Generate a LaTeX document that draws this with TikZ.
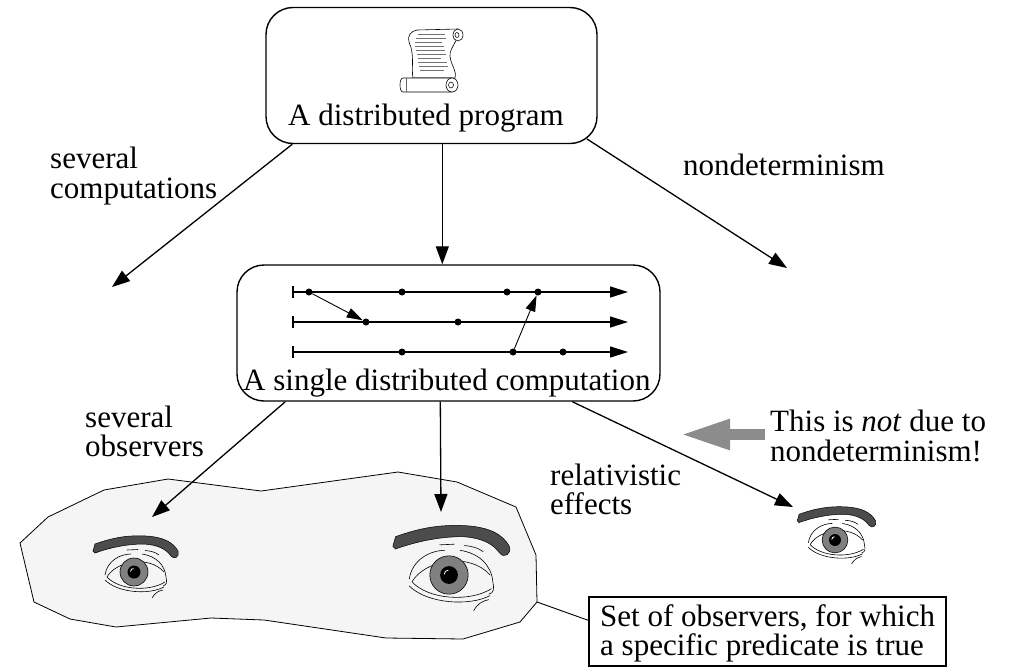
\documentclass[tikz,border=0pt]{standalone}
\usepackage{fontspec}
\setmainfont{Liberation Serif}
\usetikzlibrary{arrows.meta,calc}

\tikzset{
  % a drawn eye: brow, lids and iris, centred on the iris
  pics/eye/.style={code={
    \filldraw[fill=black!70, line width=0.5pt]
      (-41,-21) -- (-39,-28) .. controls (-22,-34) and (-8,-37) .. (12,-36)
      .. controls (29,-35) and (39,-30) .. (44,-21)
      .. controls (46,-15) and (40,-12) .. (37,-16)
      .. controls (32,-23) and (24,-27) .. (10,-28)
      .. controls (-8,-28) and (-25,-24) .. (-39,-19) -- cycle;
    \draw[line width=0.6pt] (-27,5) .. controls (-18,-11) and (15,-17) .. (30,0);
    \draw[line width=0.6pt] (-29,3) .. controls (-27,-11) and (-14,-18) .. (-3,-18);
    \draw[line width=0.6pt] (8,-18) .. controls (22,-16) and (31,-7) .. (32,5)
      .. controls (33,10) and (33,13) .. (29,14);
    \draw[line width=0.6pt] (-7,-22) -- (4,-22.5);
    \draw[line width=0.6pt] (11,-21.5) .. controls (17,-21) and (21,-20) .. (25,-17);
    \draw[line width=0.6pt] (-27,5) .. controls (-15,18) and (15,20) .. (31,10);
    \draw[line width=0.6pt] (-29,8) .. controls (-16,21) and (15,23) .. (30,15);
    \draw[line width=0.6pt] (18,26) .. controls (21,21) and (24,19) .. (29,18);
    \filldraw[fill=black!50, line width=0.6pt] (0,0) circle (14);
    \fill (0,0) circle (6.5);
    \draw[white, line width=0.8pt] (-3.5,-0.5) .. controls (-3.5,-2.5) and (-2,-3.5) .. (-0.5,-3.5);
  }},
  % a rolled parchment with lines of writing
  pics/scroll/.style={code={
    \filldraw[fill=white, line width=0.6pt]
      (-14,-30) -- (27,-31) .. controls (30,-22) and (18,-12) .. (19,-4)
      .. controls (20,6) and (26,10) .. (24,18) -- (-18,18)
      .. controls (-20,8) and (-16,-5) .. (-22,-18)
      .. controls (-24,-24) and (-20,-29) .. (-14,-30) -- cycle;
    \foreach \yy/\xa/\xb in {-26/-13/14,-22/-15/15,-18/-16/11,-14/-16/13,-10/-15/14,
                            -6/-14/15,-2/-13/10,2/-13/16,6/-12/17,10/-11/13}
      \draw[black!55, line width=0.9pt] (\xa,\yy) -- (\xb,\yy);
    \filldraw[fill=white, line width=0.6pt]
      (-28,18) -- (21,18) -- (21,32) -- (-28,32)
      .. controls (-32,32) and (-32,18) .. (-28,18) -- cycle;
    \draw[line width=0.5pt, black!60] (-25,18) -- (-25,32);
    \filldraw[fill=white, line width=0.6pt] (21,25) ellipse (6 and 7);
    \draw[line width=0.5pt] (20,25) ellipse (2.5 and 3);
    \filldraw[fill=white, line width=0.6pt] (27,-25) ellipse (5 and 6);
    \draw[line width=0.5pt] (26,-25) ellipse (2 and 2.5);
  }}
}

\begin{document}
\begin{tikzpicture}[x=1pt,y=-1pt,
  lbl/.style={font=\fontsize{31}{30}\selectfont, inner sep=0pt, anchor=base west},
  roundbox/.style={draw, line width=1.4pt, rounded corners=27pt, inner sep=0pt},
  conn/.style={line width=1.3pt, -{Triangle[length=18pt,width=13pt]}},
  proc/.style={line width=1.4pt, -{Triangle[length=18pt,width=11pt]}},
  ev/.style={circle, fill, inner sep=0pt, minimum size=7pt},
  msg/.style={line width=0.9pt, -{Triangle[length=16pt,width=10pt]}}
]
\useasboundingbox (0,0) rectangle (1009,667);

% ---- the set of observers (light region) ----
\filldraw[fill=black!4, line width=0.8pt]
  (20,543) -- (48,517) -- (104,490) -- (168,479) -- (261,491) -- (398,472)
  -- (457,482) -- (516,507) -- (536,555) -- (537,602) -- (520,622) -- (463,639)
  -- (386,638) -- (264,620) -- (211,618) -- (116,627) -- (70,619) -- (34,602) -- cycle;
\coordinate (blobtip) at (537,602);

% ---- the program ----
\node[roundbox, minimum width=331pt, minimum height=136pt] (prog) at (431.5,75.5) {};
\pic at (431,60) {scroll};
\node[lbl] (progtxt) at (288,125) {A distributed program};

% ---- the computation ----
\node[roundbox, minimum width=423pt, minimum height=136pt] (comp) at (448.5,333) {};
\foreach \i/\yy in {1/292,2/322,3/352}{
  \coordinate (s\i) at (293,\yy);
  \coordinate (e\i) at (628,\yy);
  \draw[proc] (s\i) -- (e\i);
  \draw[line width=1.4pt] ($(s\i)+(0,-6)$) -- ($(s\i)+(0,6)$);
}
\foreach \n/\xx/\yy in {a1/309/292,a2/402/292,a3/507/292,a4/538/292,
                        b1/366/322,b2/458/322,
                        c1/402/352,c2/513/352,c3/563/352}
  \node[ev] (\n) at (\xx,\yy) {};
\draw[msg] (a1) -- (b1);
\draw[msg] (c2) -- (a4);
\node[lbl] (comptxt) at (243,390) {A single distributed computation};

% ---- branches from the program ----
\coordinate (tl) at (112,287);
\coordinate (tr) at (787,268);
\draw[conn] ($(prog.south west)+(27,0)$) -- (tl);
\draw[conn] ($(prog.south west)+(177,0)$) -- ($(comp.north west)+(206,0)$);
\draw[conn] (587,139) -- (tr);
\node[lbl] (sc1) at (50,168) {several};
\node[lbl] (sc2) at (50,198) {computations};
\node[lbl] (nd) at (683,175) {nondeterminism};

% ---- observers ----
\pic at (134,572) {eye};
\pic[scale=1.37] at (449,575) {eye};
\pic[scale=0.92] at (835,540) {eye};
\coordinate (ol) at (152,517);
\coordinate (om) at (441,512);
\coordinate (or) at (793,507);
\draw[conn] ($(comp.south west)+(49,0)$) -- (ol);
\draw[conn] ($(comp.south west)+(204,0)$) -- (om);
\draw[conn] ($(comp.south west)+(336,0)$) -- (or);
\node[lbl] (so1) at (85,427) {several};
\node[lbl] (so2) at (85,456) {observers};
\node[lbl] (re1) at (550,485) {relativistic};
\node[lbl] (re2) at (550,514) {effects};

% ---- remark ----
\coordinate (gs) at (765,434.5);
\coordinate (ge) at (680,434.5);
\draw[black!45, line width=11pt, -{Triangle[length=50pt,width=28pt]}] (gs) -- (ge);
\node[lbl] (nt1) at (770,431) {This is \textit{not} due to};
\node[lbl] (nt2) at (770,461) {nondeterminism!};

% ---- note on the set of observers ----
\node[draw, line width=1.3pt, minimum width=357pt, minimum height=69pt, inner sep=0pt] (note) at (767.5,631.5) {};
\draw[line width=0.9pt] (blobtip) -- ($(note.north west)+(0,24)$);
\node[lbl] (st1) at (600,626) {Set of observers, for which};
\node[lbl] (st2) at (600,655) {a specific predicate is true};
\end{tikzpicture}
\end{document}
